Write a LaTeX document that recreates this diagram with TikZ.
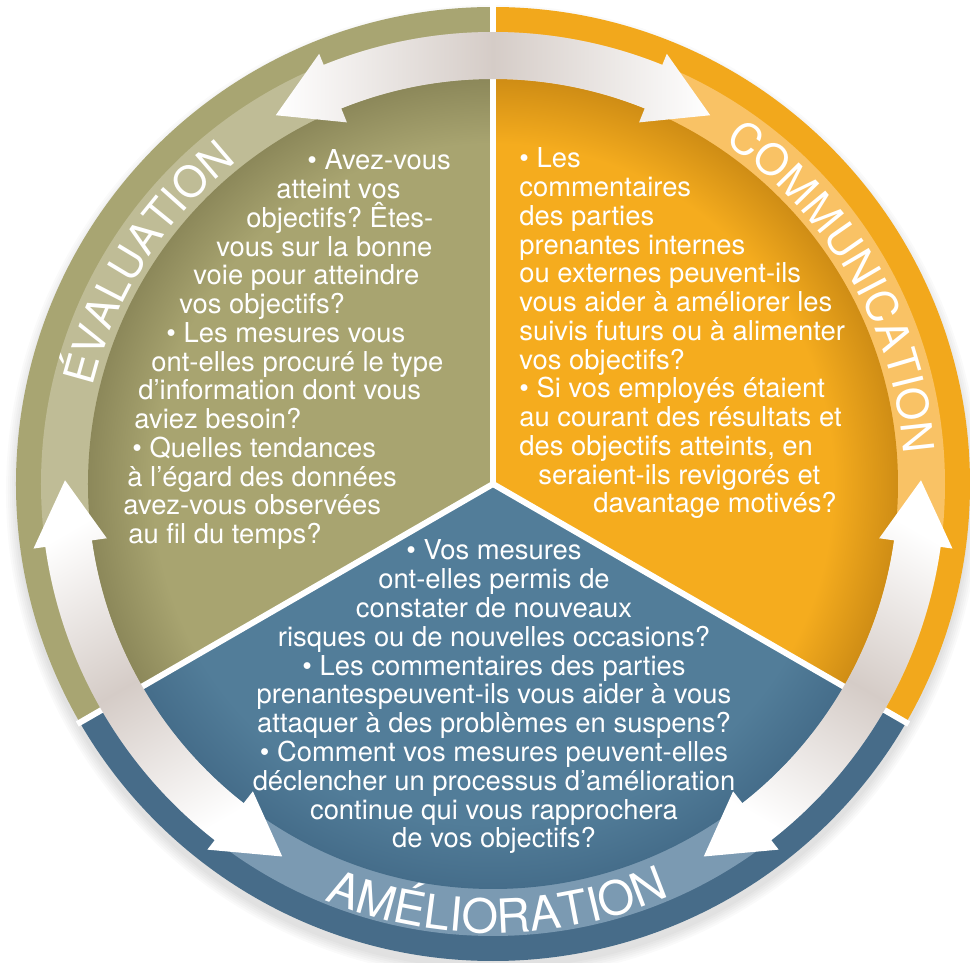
\documentclass[tikz,border=0pt]{standalone}
\usepackage{fontspec}
\setmainfont{TeX Gyre Heros}
\usetikzlibrary{decorations.text}
\frenchspacing

\definecolor{evout}{HTML}{A8A572}
\definecolor{evband}{HTML}{BFBC96}
\definecolor{evin}{HTML}{A8A470}
\definecolor{evdark}{HTML}{8C885A}
\definecolor{coout}{HTML}{F2A81C}
\definecolor{coband}{HTML}{F9C265}
\definecolor{coin}{HTML}{F5AC1E}
\definecolor{codark}{HTML}{CF8D15}
\definecolor{amout}{HTML}{476C89}
\definecolor{amband}{HTML}{7B9AB2}
\definecolor{amin}{HTML}{527D99}
\definecolor{amdark}{HTML}{456D8A}
\definecolor{argray}{HTML}{D5CCC7}

\pgfdeclareradialshading{evshade}{\pgfpoint{0bp}{0bp}}{color(0bp)=(evin); color(21bp)=(evin); color(25bp)=(evdark); color(50bp)=(evdark)}
\pgfdeclareradialshading{coshade}{\pgfpoint{0bp}{0bp}}{color(0bp)=(coin); color(21bp)=(coin); color(25bp)=(codark); color(50bp)=(codark)}
\pgfdeclareradialshading{amshade}{\pgfpoint{0bp}{0bp}}{color(0bp)=(amin); color(21bp)=(amin); color(25bp)=(amdark); color(50bp)=(amdark)}

\newcommand\ringfont{\fontsize{21.5pt}{21.5pt}\selectfont}
\newcommand\ringfontbig{\fontsize{23.5pt}{23.5pt}\selectfont}

\tikzset{
  body/.style={text=white, inner sep=0pt, font=\fontsize{13.7pt}{14.4pt}\selectfont},
  arrowshade/.style={left color=white, right color=white, middle color=argray},
  ringtext/.style={decorate, decoration={text along path, text align=center,
      text color=white, text={#1}}}
}

\begin{document}
\begin{tikzpicture}[x=0.5pt, y=0.5pt]
  \useasboundingbox (-493,-479) rectangle (477,484);
  \fill[white] (-493,-479) rectangle (477,484);
  % soft shadow
  \foreach \k in {1,...,6}
    \fill[black, opacity=0.018] (0,-8) circle ({475+2*\k});
  % sectors
  \foreach \a/\cout/\cband/\cshade in {90/evout/evband/evshade, 210/amout/amband/amshade, 330/coout/coband/coshade} {
    \begin{scope}
      \clip (0,0) -- (\a:700) arc[start angle=\a, end angle=\a+120, radius=700] -- cycle;
      \fill[\cout] (0,0) circle (477);
      \fill[\cband] (0,0) circle (452);
      \shade[shading=\cshade] (0,0) circle (405);
    \end{scope}
  }
  \foreach \a in {90,210,330}
    \draw[white, line width=3pt] (0,0) -- (\a:480);
  % double arrows
  \foreach \r/\s in {0/90, 120/210, 240/330}
    \shade[arrowshade, rotate=\r, shading angle=\s]
      (68:452) arc[start angle=68, end angle=112, radius=452] -- (112:464) -- (120.5:428)
      -- (112:390) -- (112:405) arc[start angle=112, end angle=68, radius=405]
      -- (68:390) -- (59.5:428) -- (68:464) -- cycle;
  % ring labels
  \path[ringtext=|\ringfont|ÉVALUATION] (177.4:412) arc[start angle=177.4, end angle=117.4, radius=412];
  \path[ringtext=|\ringfont|COMMUNICATION] (58:412) arc[start angle=58, end angle=2, radius=412];
  \path[ringtext=|\ringfontbig|AMÉLIORATION] (238.6:449) arc[start angle=238.6, end angle=302.6, radius=449];
  % texts
  \foreach \x/\t [count=\i] in {307/{• Avez-vous}, 276/{atteint vos}, 246/{objectifs? Êtes-},
      216/{vous sur la bonne}, 193/{voie pour atteindre}, 179/{vos objectifs?},
      166/{• Les mesures vous}, 151/{ont-elles procuré le type}, 138/{d’information dont vous},
      134/{aviez besoin?}, 132/{• Quelles tendances}, 127/{à l’égard des données},
      123/{avez-vous observées}, 128/{au fil du temps?}}
    \node[body, anchor=base west] (ev\i) at ({\x-493}, {314-28.75*(\i-1)}) {\t};
  \foreach \x/\t [count=\i] in {519/{• Les}, 519/{commentaires}, 519/{des parties},
      519/{prenantes internes}, 519/{ou externes peuvent-ils}, 519/{vous aider à améliorer les},
      519/{suivis futurs ou à alimenter}, 519/{vos objectifs?}, 519/{• Si vos employés étaient},
      519/{au courant des résultats et}, 519/{des objectifs atteints, en},
      538/{seraient-ils revigorés et}, 593/{davantage motivés?}}
    \node[body, anchor=base west] (co\i) at ({\x-493}, {316-28.75*(\i-1)}) {\t};
  \foreach \t [count=\i] in {{• Vos mesures}, {ont-elles permis de}, {constater de nouveaux},
      {risques ou de nouvelles occasions?}, {• Les commentaires des parties},
      {prenantespeuvent-ils vous aider à vous}, {attaquer à des problèmes en suspens?},
      {• Comment vos mesures peuvent-elles}, {déclencher un processus d’amélioration},
      {continue qui vous rapprochera}, {de vos objectifs?}}
    \node[body, anchor=base] (am\i) at (1, {-76-28.8*(\i-1)}) {\t};
\end{tikzpicture}
\end{document}
